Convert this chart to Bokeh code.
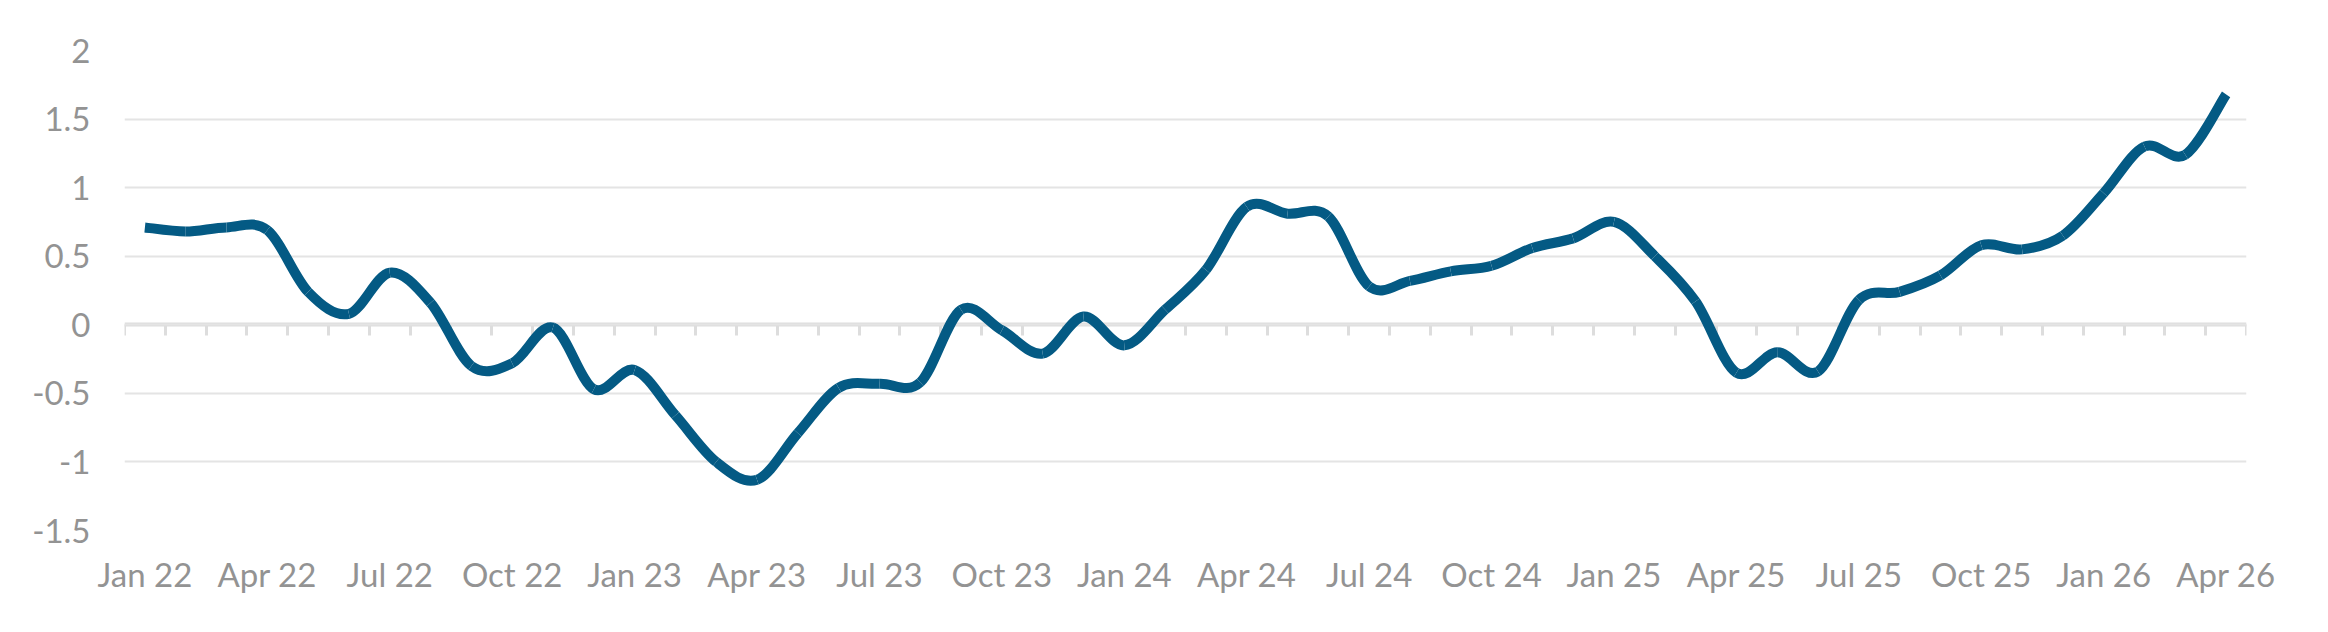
from bokeh.plotting import figure
from bokeh.models import Range1d, FixedTicker, LinearAxis, CustomJSTickFormatter
from bokeh.embed import file_html
from bokeh.resources import INLINE

# ---- data ----
months = [
    "Jan 22", "Feb 22", "Mar 22", "Apr 22", "May 22", "Jun 22", "Jul 22", "Aug 22", "Sep 22", "Oct 22", "Nov 22", "Dec 22",
    "Jan 23", "Feb 23", "Mar 23", "Apr 23", "May 23", "Jun 23", "Jul 23", "Aug 23", "Sep 23", "Oct 23", "Nov 23", "Dec 23",
    "Jan 24", "Feb 24", "Mar 24", "Apr 24", "May 24", "Jun 24", "Jul 24", "Aug 24", "Sep 24", "Oct 24", "Nov 24", "Dec 24",
    "Jan 25", "Feb 25", "Mar 25", "Apr 25", "May 25", "Jun 25", "Jul 25", "Aug 25", "Sep 25", "Oct 25", "Nov 25", "Dec 25",
    "Jan 26", "Feb 26", "Mar 26", "Apr 26",
]
values = [
    0.71, 0.68, 0.71, 0.69, 0.24, 0.08, 0.38, 0.16, -0.30, -0.28, -0.02, -0.47,
    -0.33, -0.66, -1.00, -1.13, -0.79, -0.46, -0.43, -0.42, 0.11, -0.04, -0.21, 0.06,
    -0.15, 0.11, 0.40, 0.86, 0.81, 0.79, 0.28, 0.32, 0.39, 0.43, 0.56, 0.63,
    0.75, 0.50, 0.17, -0.35, -0.20, -0.34, 0.18, 0.24, 0.36, 0.58, 0.55, 0.65,
    0.96, 1.30, 1.24, 1.68,
]
y_ticks = [-1.5, -1, -0.5, 0, 0.5, 1, 1.5, 2]
y_tick_labels = ["-1.5", "-1", "-0.5", "0", "0.5", "1", "1.5", "2"]
x_label_step = 3

# ---- styles ----
LINE_COLOR = "#045A84"
TEXT_COLOR = "#939393"
GRID_COLOR = "#E4E4E4"
AXIS_COLOR = "#DDDDDD"
FONT = "Lato"
FONT_SIZE = "33px"

n = len(values)
xs = list(range(n))

p = figure(
    width=2312, height=616,
    x_range=Range1d(-0.5, n - 0.5), y_range=Range1d(y_ticks[0], y_ticks[-1]),
    output_backend="svg", toolbar_location=None,
    min_border_left=124, min_border_right=66, min_border_top=50, min_border_bottom=86,
)
p.outline_line_color = None
p.background_fill_color = "white"
p.border_fill_color = "white"

# smoothed line (Catmull-Rom style Bezier segments through the data points)
def pt(i):
    i = max(0, min(n - 1, i))
    return xs[i], values[i]

x0, y0, x1, y1, cx0, cy0, cx1, cy1 = [], [], [], [], [], [], [], []
for i in range(n - 1):
    pa, pb = pt(i - 1), pt(i)
    pc, pd = pt(i + 1), pt(i + 2)
    x0.append(pb[0]); y0.append(pb[1])
    x1.append(pc[0]); y1.append(pc[1])
    cx0.append(pb[0] + (pc[0] - pa[0]) / 6.0); cy0.append(pb[1] + (pc[1] - pa[1]) / 6.0)
    cx1.append(pc[0] - (pd[0] - pb[0]) / 6.0); cy1.append(pc[1] - (pd[1] - pb[1]) / 6.0)

p.bezier(x0=x0, y0=y0, x1=x1, y1=y1, cx0=cx0, cy0=cy0, cx1=cx1, cy1=cy1,
         line_color=LINE_COLOR, line_width=10)

# y axis
p.yaxis.ticker = FixedTicker(ticks=y_ticks)
p.yaxis.major_label_overrides = dict(zip(y_ticks, y_tick_labels))
p.yaxis.axis_line_color = None
p.yaxis.major_tick_line_color = None
p.yaxis.minor_tick_line_color = None
p.yaxis.major_label_standoff = 28
p.yaxis.major_label_text_font = FONT
p.yaxis.major_label_text_font_size = FONT_SIZE
p.yaxis.major_label_text_color = TEXT_COLOR

p.ygrid.ticker = FixedTicker(ticks=y_ticks)
p.ygrid.grid_line_color = GRID_COLOR
p.ygrid.grid_line_width = 2
p.xgrid.grid_line_color = None

# x axis labels (bottom)
label_ticks = xs[::x_label_step]
p.xaxis.ticker = FixedTicker(ticks=label_ticks)
p.xaxis.major_label_overrides = {i: months[i] for i in label_ticks}
p.xaxis.axis_line_color = None
p.xaxis.major_tick_line_color = None
p.xaxis.minor_tick_line_color = None
p.xaxis.major_label_standoff = 17
p.xaxis.major_label_text_font = FONT
p.xaxis.major_label_text_font_size = FONT_SIZE
p.xaxis.major_label_text_color = TEXT_COLOR

# category axis at zero with tick marks between months
zero_axis = LinearAxis(
    fixed_location=0,
    ticker=FixedTicker(ticks=[i - 0.5 for i in range(n + 1)]),
    formatter=CustomJSTickFormatter(code="return ''"),
    axis_line_color=AXIS_COLOR, axis_line_width=4,
    major_tick_line_color=AXIS_COLOR, major_tick_line_width=3,
    major_tick_in=0, major_tick_out=11,
    minor_tick_line_color=None,
    major_label_text_font_size="1px",
    level="underlay",
)
p.add_layout(zero_axis, "below")

open("out.html", "w").write(file_html(p, INLINE))
